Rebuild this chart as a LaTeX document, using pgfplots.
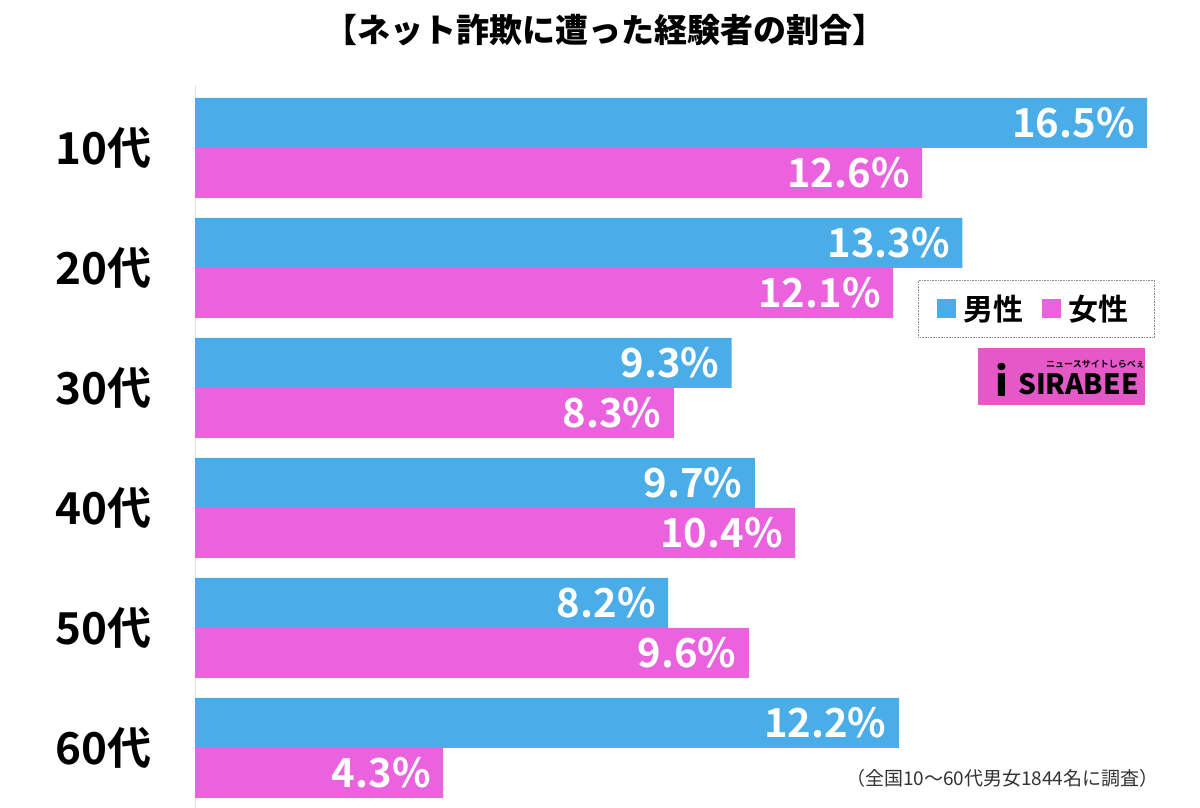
\documentclass[border=0pt]{standalone}
\usepackage{fontspec}
\setmainfont{Noto Sans CJK JP}[BoldFont={Noto Sans CJK JP Bold}]
\newfontfamily\blackfont{Noto Sans CJK JP Black}
\usepackage{pgfplots}
\pgfplotsset{compat=1.18}
\definecolor{cblue}{RGB}{75,173,232}
\definecolor{cpink}{RGB}{234,98,222}
\definecolor{logopink}{RGB}{228,88,200}
\begin{document}
\begin{tikzpicture}[x=1pt,y=1pt]
\useasboundingbox[fill=white] (0,0) rectangle (1200,808);
\begin{axis}[
  at={(195pt,0pt)}, anchor=south west,
  scale only axis, width=981pt, height=723pt,
  xmin=0, xmax=17, ymin=-0.5, ymax=5.525,
  xbar, bar width=50pt,
  axis x line=none, axis y line*=left,
  y axis line style={draw=black!12, line width=0.8pt, -},
  ytick={0,1,2,3,4,5},
  yticklabels={60代,50代,40代,30代,20代,10代},
  major tick length=0pt,
  yticklabel style={font=\bfseries\fontsize{44}{48}\selectfont, anchor=east, inner sep=0pt, xshift=-43pt},
  nodes near coords={\pgfmathprintnumber[fixed,precision=1,fixed zerofill]{\pgfplotspointmeta}\%},
  point meta=x,
  /pgf/number format/assume math mode=true,
  every node near coord/.append style={anchor=east, xshift=-9pt, text=white, font=\bfseries\fontsize{40}{44}\selectfont},
  legend style={at={(axis cs:12.53,3.9)}, anchor=north west, draw=black!45, densely dotted, line width=0.6pt,
    font=\bfseries\fontsize{30}{34}\selectfont, inner xsep=19pt, inner ysep=13pt,
    nodes={inner xsep=7pt},
    /tikz/every even column/.append style={column sep=12pt}},
  legend columns=2,
  clip=false,
]
\addplot[fill=cblue, draw=none, bar shift=25pt,
  legend image code/.code={\fill[cblue,solid] (0pt,-9.5pt) rectangle (19pt,9.5pt);}]
  coordinates {(16.5,5) (13.3,4) (9.3,3) (9.7,2) (8.2,1) (12.2,0)};
\addplot[fill=cpink, draw=none, bar shift=-25pt,
  legend image code/.code={\fill[cpink,solid] (0pt,-9.5pt) rectangle (19pt,9.5pt);}]
  coordinates {(12.6,5) (12.1,4) (8.3,3) (10.4,2) (9.6,1) (4.3,0)};
\legend{男性,女性}
\end{axis}
\node at (605,778) {\blackfont\fontsize{33}{36}\selectfont 【ネット詐欺に遭った経験者の割合】};
\node[anchor=east, text=black!80] at (1162,30) {\fontsize{19}{22}\selectfont （全国10～60代男女1844名に調査）};
\fill[logopink] (978,403) rectangle (1145,460);
\node[anchor=west, inner sep=0pt] at (1018,424) {\blackfont\itshape\fontsize{28}{30}\selectfont SIRABEE};
\node[anchor=west, inner sep=0pt] at (1046,444) {\bfseries\fontsize{9}{10}\selectfont ニュースサイトしらべぇ};
\node[anchor=center, inner sep=0pt] at (1002,428) {\blackfont\fontsize{40}{40}\selectfont i};
\end{tikzpicture}
\end{document}
